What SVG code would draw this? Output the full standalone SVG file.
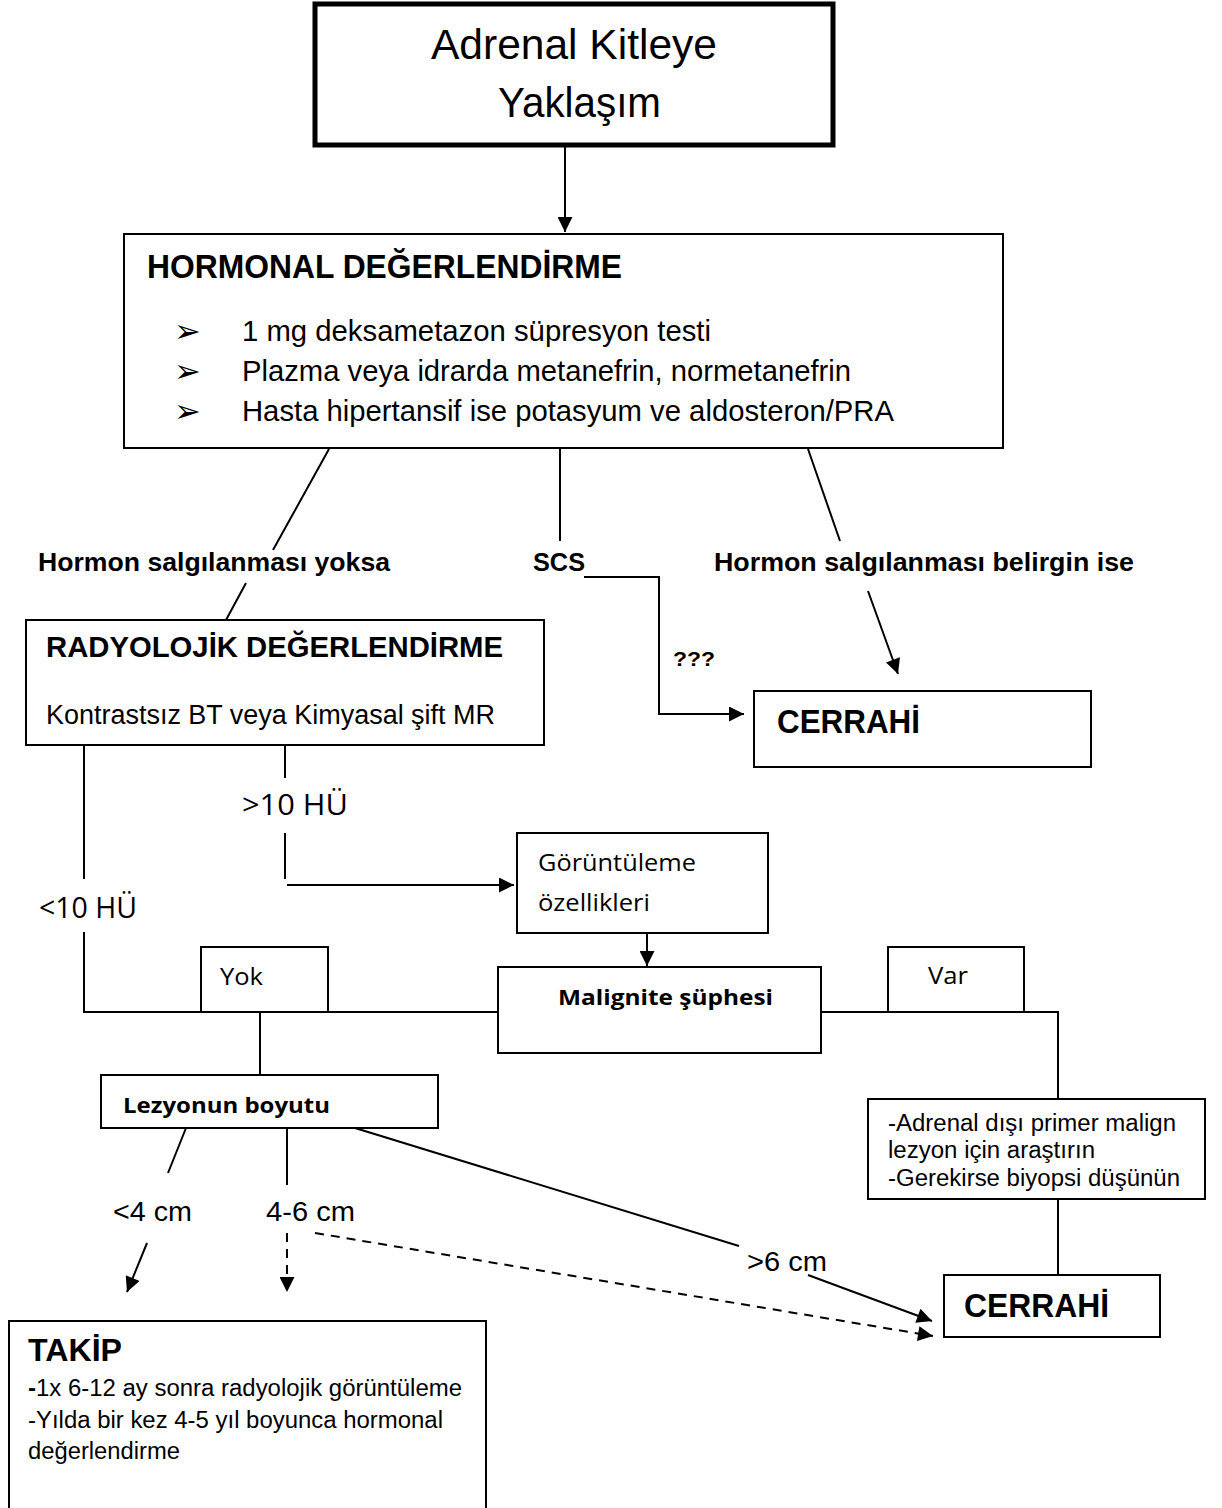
<svg xmlns="http://www.w3.org/2000/svg" width="1222" height="1508" viewBox="0 0 1222 1508">
<defs>
<style>
.box{fill:#fff;stroke:#000;stroke-width:2}
.ln{fill:none;stroke:#000;stroke-width:2}
.dash{fill:none;stroke:#000;stroke-width:2;stroke-dasharray:9 7}
.a{font-family:"Liberation Sans",Arial,sans-serif;fill:#000}
.ab{font-family:"Liberation Sans",Arial,sans-serif;font-weight:bold;fill:#000}
.c{font-family:"Open Sans","Noto Sans",sans-serif;fill:#000}
.cb{font-family:"Open Sans","Noto Sans",sans-serif;font-weight:bold;fill:#000}
.bul{font-family:"DejaVu Sans",sans-serif;fill:#000}
</style>
<marker id="ah" viewBox="0 0 10 10" refX="10" refY="5" markerWidth="16" markerHeight="15" markerUnits="userSpaceOnUse" orient="auto">
<path d="M0,0 L10,5 L0,10 z" fill="#000"/>
</marker>
</defs>
<rect width="1222" height="1508" fill="#fff"/>

<g id="connectors">
<line class="ln" x1="565" y1="145" x2="565" y2="232" marker-end="url(#ah)"/>
<line class="ln" x1="329" y1="449" x2="273" y2="550"/>
<line class="ln" x1="246" y1="583" x2="226" y2="620"/>
<line class="ln" x1="560" y1="449" x2="560" y2="541"/>
<line class="ln" x1="808" y1="449" x2="840" y2="541"/>
<polyline class="ln" points="584,577 659,577 659,714 744,714" marker-end="url(#ah)"/>
<line class="ln" x1="868" y1="591" x2="898" y2="674" marker-end="url(#ah)"/>
<line class="ln" x1="84" y1="745" x2="84" y2="879"/>
<polyline class="ln" points="84,932 84,1012 497,1012"/>
<line class="ln" x1="285" y1="745" x2="285" y2="778"/>
<line class="ln" x1="285" y1="833" x2="285" y2="879"/>
<line class="ln" x1="287" y1="885" x2="514" y2="885" marker-end="url(#ah)"/>
<line class="ln" x1="647" y1="933" x2="647" y2="966" marker-end="url(#ah)"/>
<polyline class="ln" points="821,1012 1058,1012 1058,1099"/>
<line class="ln" x1="260" y1="1012" x2="260" y2="1075"/>
<line class="ln" x1="1058" y1="1199" x2="1058" y2="1275"/>
<line class="ln" x1="186" y1="1128" x2="168" y2="1173"/>
<line class="ln" x1="287" y1="1128" x2="287" y2="1185"/>
<line class="ln" x1="355" y1="1128" x2="739" y2="1246"/>
<line class="ln" x1="147" y1="1243" x2="127" y2="1292" marker-end="url(#ah)"/>
<line class="dash" x1="287" y1="1233" x2="287" y2="1292" marker-end="url(#ah)"/>
<line class="dash" x1="315" y1="1233" x2="933" y2="1336" marker-end="url(#ah)"/>
<line class="ln" x1="808" y1="1275" x2="932" y2="1321" marker-end="url(#ah)"/>
</g>

<g id="edge-labels">
<text class="ab" x="38" y="571" font-size="25" textLength="352" lengthAdjust="spacingAndGlyphs">Hormon salgılanması yoksa</text>
<text class="ab" x="533" y="571" font-size="25" textLength="52" lengthAdjust="spacingAndGlyphs">SCS</text>
<text class="ab" x="714" y="571" font-size="25" textLength="420" lengthAdjust="spacingAndGlyphs">Hormon salgılanması belirgin ise</text>
<text class="ab" x="673" y="666" font-size="21" textLength="42" lengthAdjust="spacingAndGlyphs">???</text>
<text class="c" x="242" y="815" font-size="29" textLength="106" lengthAdjust="spacingAndGlyphs">&gt;10 HÜ</text>
<text class="c" x="39" y="918" font-size="29" textLength="98" lengthAdjust="spacingAndGlyphs">&lt;10 HÜ</text>
<text class="a" x="113" y="1221" font-size="27" textLength="79" lengthAdjust="spacingAndGlyphs">&lt;4 cm</text>
<text class="a" x="266" y="1221" font-size="27" textLength="89" lengthAdjust="spacingAndGlyphs">4-6 cm</text>
<text class="a" x="747" y="1271" font-size="27" textLength="80" lengthAdjust="spacingAndGlyphs">&gt;6 cm</text>
</g>

<g id="node-start">
<rect x="315" y="4" width="518" height="141" fill="#fff" stroke="#000" stroke-width="5"/>
<text class="a" x="431" y="59" font-size="43" textLength="286" lengthAdjust="spacingAndGlyphs">Adrenal Kitleye</text>
<text class="a" x="498" y="117" font-size="43" textLength="163" lengthAdjust="spacingAndGlyphs">Yaklaşım</text>
</g>

<g id="node-hormonal">
<rect class="box" x="124" y="234" width="879" height="214"/>
<text class="ab" x="147" y="278" font-size="33" textLength="475" lengthAdjust="spacingAndGlyphs">HORMONAL DEĞERLENDİRME</text>
<text class="bul" x="174" y="342" font-size="32">➢</text>
<text class="a" x="242" y="341" font-size="29" textLength="469" lengthAdjust="spacingAndGlyphs">1 mg deksametazon süpresyon testi</text>
<text class="bul" x="174" y="382" font-size="32">➢</text>
<text class="a" x="242" y="381" font-size="29" textLength="609" lengthAdjust="spacingAndGlyphs">Plazma veya idrarda metanefrin, normetanefrin</text>
<text class="bul" x="174" y="422" font-size="32">➢</text>
<text class="a" x="242" y="421" font-size="29" textLength="652" lengthAdjust="spacingAndGlyphs">Hasta hipertansif ise potasyum ve aldosteron/PRA</text>
</g>

<g id="node-radyolojik">
<rect class="box" x="26" y="620" width="518" height="125"/>
<text class="ab" x="46" y="657" font-size="29" textLength="457" lengthAdjust="spacingAndGlyphs">RADYOLOJİK DEĞERLENDİRME</text>
<text class="a" x="46" y="724" font-size="27" textLength="449" lengthAdjust="spacingAndGlyphs">Kontrastsız BT veya Kimyasal şift MR</text>
</g>

<g id="node-cerrahi1">
<rect class="box" x="754" y="691" width="337" height="76"/>
<text class="ab" x="777" y="733" font-size="33" textLength="143" lengthAdjust="spacingAndGlyphs">CERRAHİ</text>
</g>

<g id="node-goruntuleme">
<rect class="box" x="517" y="833" width="251" height="100"/>
<text class="c" x="538" y="871" font-size="24" textLength="158" lengthAdjust="spacingAndGlyphs">Görüntüleme</text>
<text class="c" x="538" y="911" font-size="24" textLength="112" lengthAdjust="spacingAndGlyphs">özellikleri</text>
</g>

<g id="node-yok">
<rect class="box" x="201" y="947" width="127" height="65"/>
<text class="c" x="220" y="985" font-size="23" textLength="43" lengthAdjust="spacingAndGlyphs">Yok</text>
</g>

<g id="node-var">
<rect class="box" x="888" y="947" width="136" height="65"/>
<text class="c" x="928" y="984" font-size="23" textLength="40" lengthAdjust="spacingAndGlyphs">Var</text>
</g>

<g id="node-malignite">
<rect class="box" x="498" y="967" width="323" height="86"/>
<text class="cb" x="558" y="1005" font-size="21" textLength="215" lengthAdjust="spacingAndGlyphs">Malignite şüphesi</text>
</g>

<g id="node-lezyon">
<rect class="box" x="101" y="1075" width="337" height="53"/>
<text class="cb" x="123" y="1113" font-size="21" textLength="207" lengthAdjust="spacingAndGlyphs">Lezyonun boyutu</text>
</g>

<g id="node-adrenal-disi">
<rect class="box" x="868" y="1099" width="337" height="100"/>
<text class="a" x="888" y="1131" font-size="23" textLength="288" lengthAdjust="spacingAndGlyphs">-Adrenal dışı primer malign</text>
<text class="a" x="888" y="1158" font-size="23" textLength="207" lengthAdjust="spacingAndGlyphs">lezyon için araştırın</text>
<text class="a" x="888" y="1186" font-size="23" textLength="292" lengthAdjust="spacingAndGlyphs">-Gerekirse biyopsi düşünün</text>
</g>

<g id="node-cerrahi2">
<rect class="box" x="944" y="1275" width="216" height="62"/>
<text class="ab" x="964" y="1317" font-size="33" textLength="145" lengthAdjust="spacingAndGlyphs">CERRAHİ</text>
</g>

<g id="node-takip">
<rect class="box" x="9" y="1321" width="477" height="200"/>
<text class="ab" x="28" y="1361" font-size="32" textLength="94" lengthAdjust="spacingAndGlyphs">TAKİP</text>
<text class="a" x="28" y="1396" font-size="23" textLength="434" lengthAdjust="spacingAndGlyphs"><tspan font-weight="bold">-</tspan>1x 6-12 ay sonra radyolojik görüntüleme</text>
<text class="a" x="28" y="1428" font-size="23" textLength="415" lengthAdjust="spacingAndGlyphs">-Yılda bir kez 4-5 yıl boyunca hormonal</text>
<text class="a" x="28" y="1459" font-size="23" textLength="152" lengthAdjust="spacingAndGlyphs">değerlendirme</text>
</g>
</svg>
